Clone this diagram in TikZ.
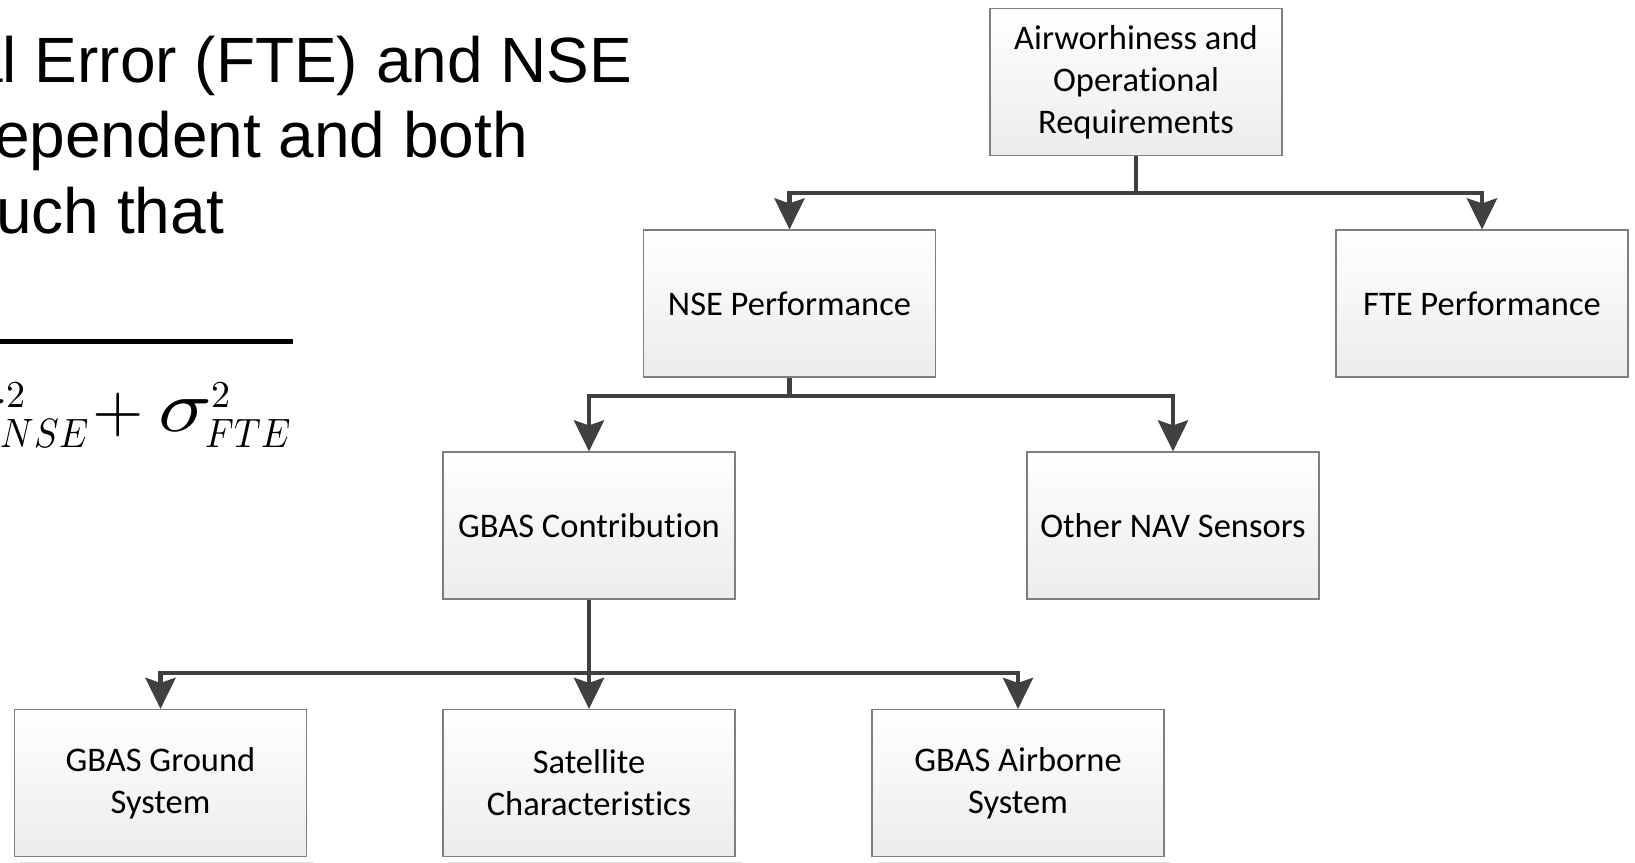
\documentclass[tikz,border=0pt]{standalone}
\usepackage{graphicx}
\usepackage{fontspec}
\usepackage{unicode-math}
\setmainfont{Carlito}[Ligatures=NoCommon]
\setmathfont{Latin Modern Math}
\newfontfamily\arialf{Liberation Sans}
\usetikzlibrary{arrows.meta,backgrounds}

\definecolor{linec}{HTML}{404040}
\definecolor{borderc}{HTML}{7F7F7F}
\definecolor{shadc}{HTML}{E0E0E0}
\definecolor{fillbot}{HTML}{ECECEC}

\newcommand{\supsc}[1]{\mbox{\fontsize{38}{38}\selectfont$#1$}}
\newcommand{\subsc}[1]{\hspace{-6pt}\mbox{\scalebox{0.9}[1]{\fontsize{41}{41}\selectfont$#1$}}}
\newcommand{\bigsig}{\mbox{\scalebox{1.2}[1]{\fontsize{74}{74}\selectfont$\sigma$}}}

\begin{document}
\begin{tikzpicture}[x=1pt,y=-1pt,
 box/.style={draw=borderc, line width=1.2pt, top color=white, bottom color=fillbot,
   minimum width=292pt, minimum height=147pt, inner sep=0pt, align=center,
   font=\fontsize{34.5}{42}\selectfont, text=black},
 conn/.style={draw=linec, line width=4.5pt},
 arr/.style={conn, -{Stealth[length=31pt,width=30pt,inset=5pt]}},
 big/.style={font=\arialf\fontsize{64}{76}\selectfont, anchor=base west, inner sep=0pt},
 shad/.style={fill=shadc, draw=none}
]
\useasboundingbox (0,0) rectangle (1635,862);
\fill[white] (0,0) rectangle (1635,862);

% boxes
\node[box] (air) at (1136,82) {Airworhiness and\\Operational\\Requirements};
\node[box] (nse) at (789.5,303.5) {NSE Performance};
\node[box] (fte) at (1482,303.5) {FTE Performance};
\node[box] (gc) at (589,525.5) {GBAS Contribution};
\node[box] (onav) at (1173,525.5) {Other NAV Sensors};
\node[box] (gg) at (160.5,783) {GBAS Ground\\System};
\node[box] (sat) at (589,783) {Satellite\\Characteristics};
\node[box] (gab) at (1018,783) {GBAS Airborne\\System};

% shadows
\begin{scope}[on background layer]
\foreach \n in {air,nse,fte,gc,onav,gg,sat,gab}{
  \fill[shad] ([shift={(6,6)}]\n.south west) rectangle ([shift={(6,6)}]\n.north east);
}
\end{scope}

% connectors
\coordinate (j1) at (1136,193);
\draw[conn] (air.south) -- (j1);
\draw[arr] (j1) -| (nse.north);
\draw[arr] (j1) -| (fte.north);

\coordinate (j2) at (789.5,396);
\draw[conn] (nse.south) -- (j2);
\draw[arr] (j2) -| (gc.north);
\draw[arr] (j2) -| (onav.north);

\coordinate (j3) at (589,673);
\draw[conn] (gc.south) -- (j3);
\draw[arr] (j3) -| (gg.north);
\draw[arr] (j3) -- (sat.north);
\draw[arr] (j3) -| (gab.north);

% left text (cut off at left edge)
\begin{scope}
\clip (0,0) rectangle (1635,862);
\node[big] (t1) at (-33,82) {al Error (FTE) and NSE};
\node[big] (t2) at (-6,157) {ependent and both};
\node[big] (t3) at (-4,233) {uch that};
\draw[line width=5pt] (0,341.5) -- (293,341.5);
\node[anchor=base east, inner sep=0pt, font=\fontsize{66}{66}\selectfont] (eq) at (291,431)
  {$\bigsig^{\supsc{2}}_{\subsc{NSE}}\mkern-3mu+\bigsig^{\supsc{2}}_{\subsc{FTE}}$};
\end{scope}
\end{tikzpicture}
\end{document}
